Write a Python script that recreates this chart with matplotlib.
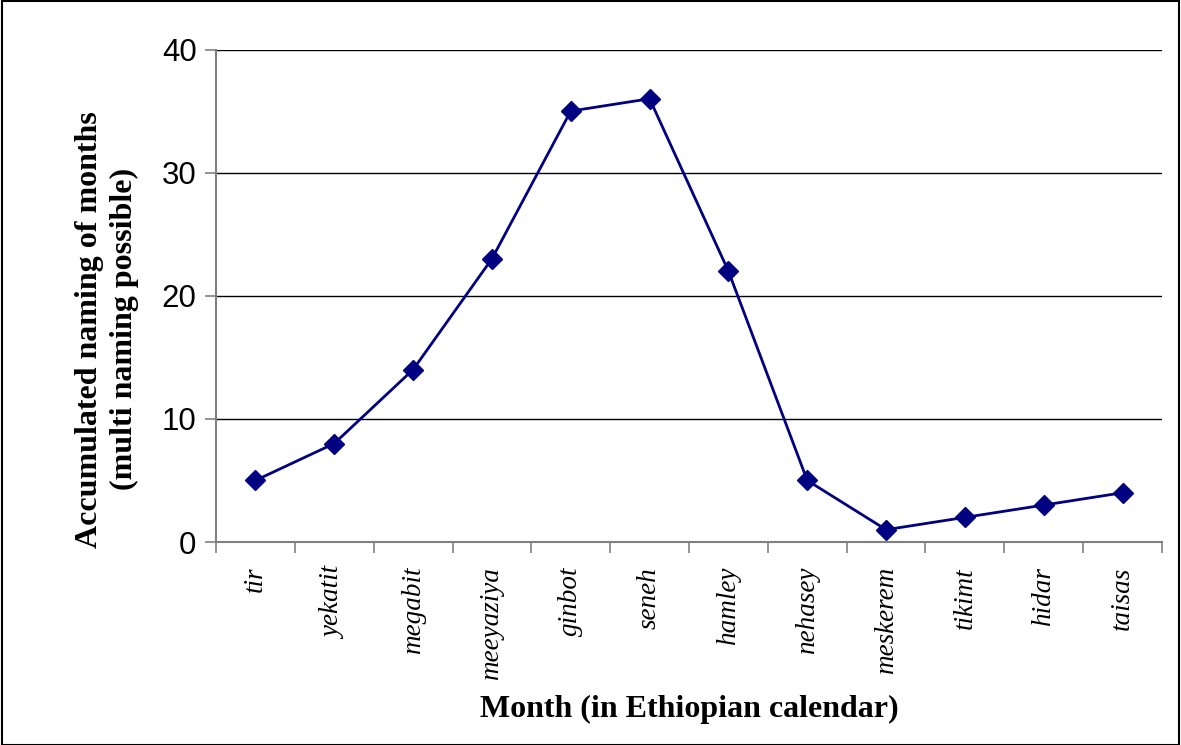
import matplotlib
matplotlib.use("Agg")
import matplotlib.pyplot as plt
from matplotlib.patches import Rectangle

months = ["tir", "yekatit", "megabit", "meeyaziya", "ginbot", "seneh",
          "hamley", "nehasey", "meskerem", "tikimt", "hidar", "taisas"]
counts = [5, 8, 14, 23, 35, 36, 22, 5, 1, 2, 3, 4]
yticks = [0, 10, 20, 30, 40]

fig = plt.figure(figsize=(11.81, 7.45), dpi=100)
fig.patch.set_facecolor("white")
ax = fig.add_axes([216/1181, 1-542/745, (1162-216)/1181, (542-49.5)/745])

x = list(range(len(months)))
ax.plot(x, counts, color="#000080", lw=2.0, marker="D", ms=10,
        markerfacecolor="#000080", markeredgecolor="#000080", zorder=3)

ax.set_xlim(-0.5, len(months) - 0.5)
ax.set_ylim(0, 40)
ax.set_yticks(yticks)
ax.set_yticklabels([str(v) for v in yticks], fontsize=22.5, family="Liberation Sans")
ax.grid(axis="y", color="black", lw=1.0, zorder=1)
ax.set_axisbelow(True)

ax.set_xticks([i - 0.5 for i in range(len(months) + 1)])
ax.set_xticklabels([])
ax.set_xticks(x, minor=True)
ax.set_xticklabels(months, minor=True, rotation=90, fontsize=19.5,
                   family="Liberation Serif", style="italic", va="top", ha="center")
ax.tick_params(axis="x", which="minor", length=0, pad=18)
ax.tick_params(axis="x", which="major", length=8, width=1.2, color="#808080", direction="out")
ax.tick_params(axis="y", length=8, width=1.2, color="#808080", direction="out", pad=6)

for s in ["top", "right"]:
    ax.spines[s].set_visible(False)
for s in ["left", "bottom"]:
    ax.spines[s].set_color("#808080")
    ax.spines[s].set_linewidth(1.5)

ax.set_ylabel("Accumulated naming of months\n(multi naming possible)",
              fontsize=23, family="Liberation Serif", fontweight="bold",
              linespacing=1.25, va="center", ha="center")
ax.yaxis.set_label_coords(-0.115, 0.432)
ax.set_xlabel("Month (in Ethiopian calendar)", fontsize=23,
              family="Liberation Serif", fontweight="bold", va="center")
ax.xaxis.set_label_coords(0.5, -(709-542)/492.5)

fig.patches.append(Rectangle((0.002, 0.0), 0.996, 0.998, transform=fig.transFigure,
                             fill=False, edgecolor="black", lw=1.5))

fig.savefig("out.png", dpi=100, facecolor="white")
